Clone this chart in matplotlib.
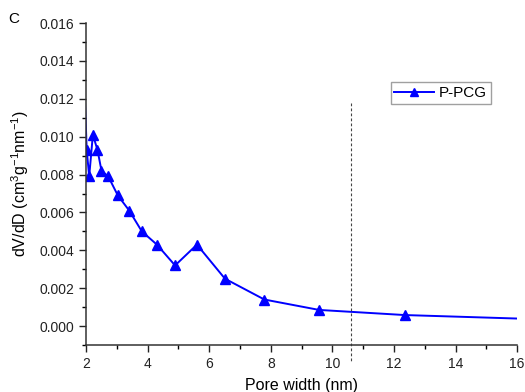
import matplotlib
matplotlib.use("Agg")
import matplotlib.pyplot as plt
from matplotlib.ticker import MultipleLocator, FormatStrFormatter

plt.rcParams["font.family"] = ["Liberation Sans", "DejaVu Sans"]
plt.rcParams["mathtext.fontset"] = "custom"
plt.rcParams["mathtext.rm"] = "Liberation Sans"

# pore width (nm) and dV/dD (cm3 g-1 nm-1)
pore_width = [1.95, 2.02, 2.10, 2.22, 2.37, 2.50, 2.72, 3.03, 3.40, 3.81, 4.30,
              4.89, 5.60, 6.51, 7.79, 9.57, 12.35, 17.5]
dvdd = [0.0125, 0.0093, 0.0079, 0.0101, 0.0093, 0.0082, 0.0079, 0.0069, 0.0061,
        0.0050, 0.0043, 0.0032, 0.0043, 0.0025, 0.0014, 0.00085, 0.00058, 0.00032]
series_name = "P-PCG"
marker_line_x = 10.62
blue = "#0000ff"

fig = plt.figure(figsize=(5.25, 3.92), dpi=100)
ax = fig.add_axes([0.164, 0.120, 0.821, 0.821])

ax.plot(pore_width, dvdd, color=blue, lw=1.4, marker="^", ms=6.5,
        markevery=list(range(1, 17)), label=series_name)
ax.plot([marker_line_x, marker_line_x], [0.0118, -0.0019], color="#444444",
        lw=0.8, ls=(0, (2.5, 2)), clip_on=False)

ax.set_xlim(2, 16)
ax.set_ylim(-0.001, 0.016)
ax.xaxis.set_major_locator(MultipleLocator(2))
ax.xaxis.set_minor_locator(MultipleLocator(1))
ax.yaxis.set_major_locator(MultipleLocator(0.002))
ax.yaxis.set_minor_locator(MultipleLocator(0.001))
ax.yaxis.set_major_formatter(FormatStrFormatter("%.3f"))
ax.tick_params(which="major", direction="out", length=5, width=1, labelsize=10,
               colors="#222222")
ax.tick_params(which="minor", direction="out", length=3, width=1)
for s in ("top", "right"):
    ax.spines[s].set_visible(False)
for s in ("left", "bottom"):
    ax.spines[s].set_linewidth(1.1)
    ax.spines[s].set_color("#333333")

ax.set_xlabel("Pore width (nm)", fontsize=11.5, labelpad=5)
ax.set_ylabel("dV/dD (cm$^3$g$^{-1}$nm$^{-1}$)", fontsize=11.5, labelpad=6)
fig.text(0.016, 0.952, "C", fontsize=11, ha="left", va="center")

leg = ax.legend(loc="upper right", bbox_to_anchor=(0.956, 0.84), fontsize=11,
                frameon=True, fancybox=False, handlelength=2.6, borderpad=0.25,
                handletextpad=0.3, markerscale=0.8)
leg.get_frame().set_edgecolor("#888888")
leg.get_frame().set_linewidth(1.0)

fig.savefig("out.png", dpi=100, facecolor="white")
